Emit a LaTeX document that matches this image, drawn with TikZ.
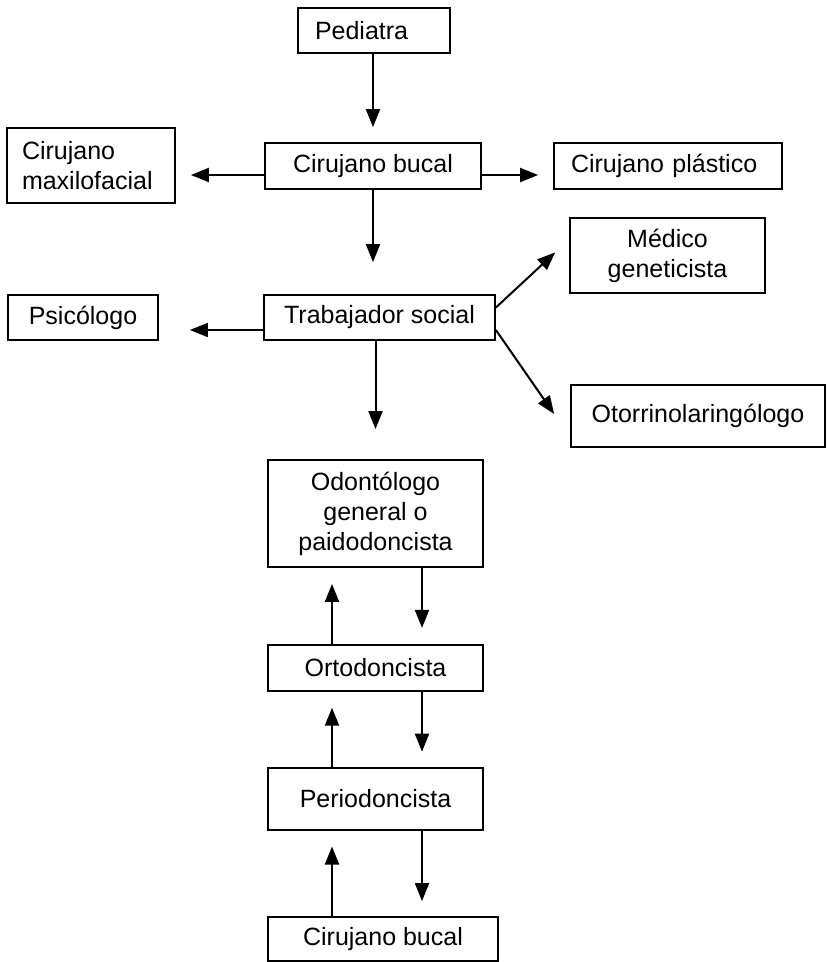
\documentclass[tikz,border=0pt]{standalone}
\usepackage{fontspec}
\setmainfont{Liberation Sans}
\usepackage{tikz}
\usetikzlibrary{arrows.meta,positioning}

\begin{document}
\begin{tikzpicture}[
  x=1pt, y=-1pt,
  box/.style={draw, line width=1.8pt, inner sep=0pt, minimum height=46pt,
              align=center, font=\fontsize{25}{30}\selectfont},
  arr/.style={->, line width=2pt},
  >={Triangle[length=18pt,width=14pt]},
]
  \useasboundingbox (0,0) rectangle (827,962);

  \node[box, minimum width=152pt, minimum height=45pt, text width=118pt,
        align=left] (ped) at (374,30.5) {Pediatra};
  \node[box, minimum width=216pt] (cb) at (373,166) {Cirujano bucal};
  \node[box, minimum width=168pt, minimum height=75pt, text width=138pt,
        align=left] (cmf) at (91,165.5) {Cirujano\\maxilofacial};
  \node[box, minimum width=228pt, text width=194pt, align=left] (cp)
    at (668,166) {Cirujano pl\'astico};

  \node[box, minimum width=231pt, minimum height=45pt] (ts) at (379.5,317.5)
    {Trabajador social};
  \node[box, minimum width=150pt, minimum height=45pt] (psi) at (83,317.5)
    {Psic\'ologo};
  \node[box, minimum width=195pt, minimum height=75pt] (mg) at (667.5,255.5)
    {M\'edico\\geneticista};
  \node[box, minimum width=254pt, minimum height=62pt] (oto) at (698,416)
    {Otorrinolaring\'ologo};

  \node[box, minimum width=215pt, minimum height=107pt] (odg) at (375.5,513.5)
    {Odont\'ologo\\general o\\paidodoncista};
  \node[box, below=76pt of odg, minimum width=215pt] (ort) {Ortodoncista};
  \node[box, below=75pt of ort, minimum width=215pt, minimum height=62pt] (per)
    {Periodoncista};
  \node[box, minimum width=230pt, minimum height=44pt] (cb2) at (383,939)
    {Cirujano bucal};

  \draw[arr, shorten >=15pt] (ped.south -| cb.north) -- (cb.north);
  \draw[arr, shorten >=15pt] ([yshift=-9pt]cb.west) -- ([yshift=-9pt]cb.west -| cmf.east);
  \draw[arr, shorten >=15pt] ([yshift=-9pt]cb.east) -- ([yshift=-9pt]cb.east -| cp.west);
  \draw[arr, shorten >=32pt] (cb.south) -- (cb.south |- ts.north);

  \draw[arr, shorten >=31pt] ([yshift=-12.5pt]ts.west) -- ([yshift=-12.5pt]ts.west -| psi.east);
  \draw[arr, shorten >=19pt] ([yshift=10pt]ts.east) -- ([yshift=16pt]mg.west);
  \draw[arr, shorten >=28pt] ([yshift=-12.5pt]ts.east) -- ([yshift=-21pt]oto.west);
  \draw[arr, shorten >=30pt] (odg.north |- ts.south) -- (odg.north);

  \draw[arr, shorten >=16pt] ([xshift=46.5pt]odg.south) -- ([xshift=46.5pt]odg.south |- ort.north);
  \draw[arr, shorten >=16pt] ([xshift=-43.5pt]ort.north) -- ([xshift=-43.5pt]ort.north |- odg.south);
  \draw[arr, shorten >=15pt] ([xshift=46.5pt]ort.south) -- ([xshift=46.5pt]ort.south |- per.north);
  \draw[arr, shorten >=16pt] ([xshift=-43.5pt]per.north) -- ([xshift=-43.5pt]per.north |- ort.south);
  \draw[arr, shorten >=15pt] ([xshift=46.5pt]per.south) -- ([xshift=46.5pt]per.south |- cb2.north);
  \draw[arr, shorten >=16pt] ([xshift=-43.5pt]per.south |- cb2.north) -- ([xshift=-43.5pt]per.south);
\end{tikzpicture}
\end{document}
